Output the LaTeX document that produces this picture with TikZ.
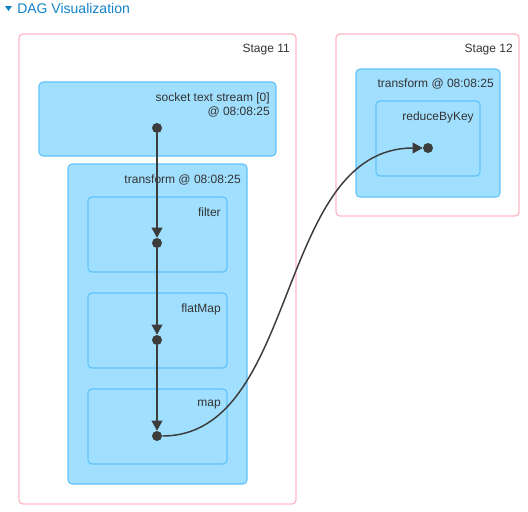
\documentclass[tikz,border=0pt]{standalone}
\usepackage{fontspec}
\setmainfont{Liberation Sans}
\usepackage{tikz}
\usetikzlibrary{arrows.meta}
\definecolor{stagepink}{RGB}{255,185,200}
\definecolor{opfill}{RGB}{161,223,254}
\definecolor{opline}{RGB}{95,195,250}
\definecolor{dotgray}{RGB}{60,60,60}
\definecolor{headblue}{RGB}{16,130,200}
\tikzset{
	stagebox/.style={draw=stagepink,line width=1pt,rounded corners=3pt},
	opbox/.style={draw=opline,fill=opfill,line width=0.8pt,rounded corners=3pt},
	lbl/.style={anchor=north east,inner sep=0pt,align=right,font=\fontsize{9}{10.5}\selectfont,text=black!80},
	dot/.style={circle,fill=dotgray,inner sep=0pt,minimum size=7.5pt},
	edge/.style={draw=dotgray,line width=1.1pt,-{Triangle[length=7.5pt,width=8pt]}}
}
\begin{document}
\begin{tikzpicture}[x=0.75pt,y=-0.75pt]
	\useasboundingbox (0,0) rectangle (528,511);
	% header
	\fill[headblue] (5,6)--(12,6)--(8.5,11)--cycle;
	\node[anchor=west,inner sep=0pt,text=headblue,font=\fontsize{10.5}{12}\selectfont] (head) at (17,8) {DAG Visualization};
	% stages
	\draw[stagebox] (19,34) rectangle (296,504);
	\node[lbl] (st11) at (290,43.5) {Stage 11};
	\draw[stagebox] (336,34) rectangle (519,216);
	\node[lbl] (st12) at (513,43.5) {Stage 12};
	% stage 11 boxes
	\draw[opbox] (39,82) rectangle (276,156);
	\node[lbl] (socketlbl) at (270,92.5) {socket text stream [0]\\@ 08:08:25};
	\draw[opbox] (68,164) rectangle (247,484);
	\node[lbl] (tr11) at (241,174.5) {transform @ 08:08:25};
	\draw[opbox] (88,197) rectangle (227,272);
	\node[lbl] (filterlbl) at (221,207.5) {filter};
	\draw[opbox] (88,293) rectangle (227,368);
	\node[lbl] (flatlbl) at (221,303.5) {flatMap};
	\draw[opbox] (88,389) rectangle (227,464);
	\node[lbl] (maplbl) at (221,399.5) {map};
	% stage 12 boxes
	\draw[opbox] (356,69) rectangle (500,197);
	\node[lbl] (tr12) at (494,78.5) {transform @ 08:08:25};
	\draw[opbox] (376,101) rectangle (480,176);
	\node[lbl] (reducelbl) at (474,111.5) {reduceByKey};
	% dots
	\node[dot] (socket) at (157,128) {};
	\node[dot] (filter) at (157,243) {};
	\node[dot] (flatmap) at (157,340) {};
	\node[dot] (map) at (157,436) {};
	\node[dot] (reduce) at (428,148) {};
	% edges
	\draw[edge] (socket) -- (filter);
	\draw[edge] (filter) -- (flatmap);
	\draw[edge] (flatmap) -- (map);
	\draw[edge] (map) .. controls (300,436) and (275,148) .. (reduce);
\end{tikzpicture}
\end{document}
